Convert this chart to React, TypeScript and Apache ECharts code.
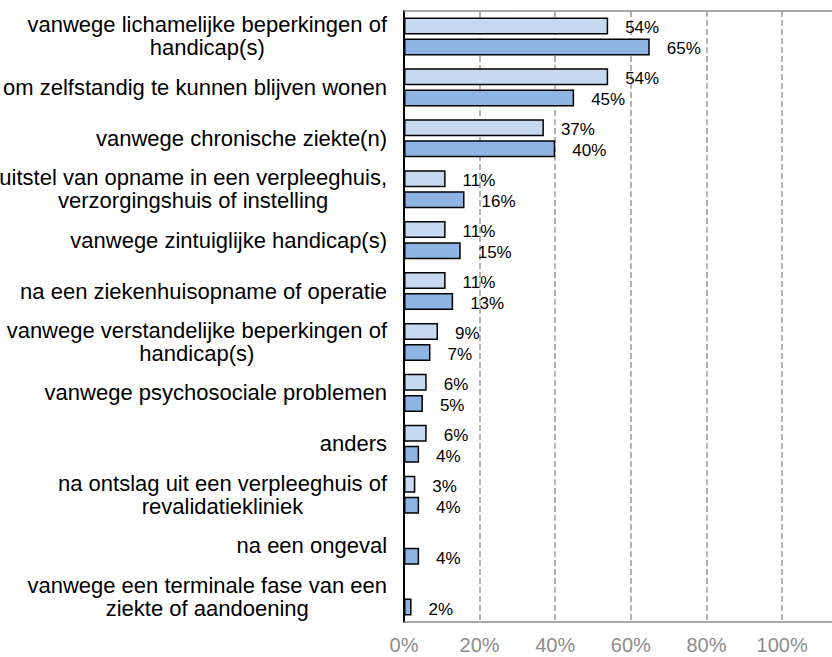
import React, { useEffect, useRef } from "react";
import * as echarts from "echarts";

const categories = [
  "vanwege lichamelijke beperkingen of\nhandicap(s)",
  "om zelfstandig te kunnen blijven wonen",
  "vanwege chronische ziekte(n)",
  "uitstel van opname in een verpleeghuis,\nverzorgingshuis of instelling",
  "vanwege zintuiglijke handicap(s)",
  "na een ziekenhuisopname of operatie",
  "vanwege verstandelijke beperkingen of\nhandicap(s)",
  "vanwege psychosociale problemen",
  "anders",
  "na ontslag uit een verpleeghuis of\nrevalidatiekliniek",
  "na een ongeval",
  "vanwege een terminale fase van een\nziekte of aandoening",
];

const seriesA = [54, 54, 37, 11, 11, 11, 9, 6, 6, 3, null, null];
const seriesB = [65, 45, 40, 16, 15, 13, 7, 5, 4, 4, 4, 2];

const xTicks = [0, 20, 40, 60, 80, 100];

export default function App() {
  const ref = useRef<HTMLDivElement>(null);
  useEffect(() => {
    if (!ref.current) return;
    const chart = echarts.init(ref.current, null, { renderer: "svg" });
    const labelStyle = {
      show: true,
      position: "right" as const,
      distance: 17,
      offset: [0, 2],
      fontSize: 17,
      color: "#000",
      fontFamily: "Liberation Sans, Arial, sans-serif",
      formatter: (p: any) => (p.value == null ? "" : p.value + "%"),
    };
    chart.setOption({
      animation: false,
      backgroundColor: "#fff",
      grid: { left: 404, right: 0, top: 11, bottom: 35, containLabel: false, outerBoundsMode: "none" },
      xAxis: [
        {
          type: "value",
          min: 0,
          max: 113.2,
          interval: 20,
          position: "bottom",
          axisLine: { show: true, lineStyle: { color: "#8c8c8c", width: 1.5 } },
          axisTick: { show: false },
          axisLabel: {
            color: "#8c8c8c",
            fontSize: 20,
            margin: 13,
            fontFamily: "Liberation Sans, Arial, sans-serif",
            formatter: (v: number) => (xTicks.includes(Math.round(v * 1000) / 1000) ? v + "%" : ""),
          },
          splitLine: {
            show: true,
            showMinLine: false,
            showMaxLine: false,
            lineStyle: { color: "#999", width: 1.5, type: [6, 3] },
          },
        },
        {
          type: "value",
          min: 0,
          max: 113.2,
          position: "top",
          axisLine: { show: true, lineStyle: { color: "#8c8c8c", width: 1.5 } },
          axisTick: { show: false },
          axisLabel: { show: false },
          splitLine: { show: false },
        },
      ],
      yAxis: {
        type: "category",
        data: categories,
        inverse: true,
        axisLine: { show: true, lineStyle: { color: "#000", width: 2 } },
        axisTick: { show: false },
        axisLabel: {
          interval: 0,
          margin: 17,
          align: "right",
          formatter: (v: string) =>
            v
              .split("\n")
              .map((l) => "{c|" + l + "}")
              .join("\n"),
          rich: {
            c: {
              align: "center",
              fontSize: 22,
              lineHeight: 23,
              color: "#000",
              fontFamily: "Liberation Sans, Arial, sans-serif",
            },
          },
        },
      },
      series: [
        {
          type: "bar",
          data: seriesA,
          barWidth: 17,
          barGap: "24%",
          itemStyle: { color: "#c6d9f1", borderColor: "#000", borderWidth: 1.5 },
          label: labelStyle,
        },
        {
          type: "bar",
          data: seriesB,
          barWidth: 17,
          barGap: "24%",
          itemStyle: { color: "#8db4e2", borderColor: "#000", borderWidth: 1.5 },
          label: labelStyle,
        },
      ],
    });
    return () => chart.dispose();
  }, []);
  return (
    <div
      ref={ref}
      style={{ position: "fixed", left: 0, top: 0, width: 832, height: 657 }}
    />
  );
}
